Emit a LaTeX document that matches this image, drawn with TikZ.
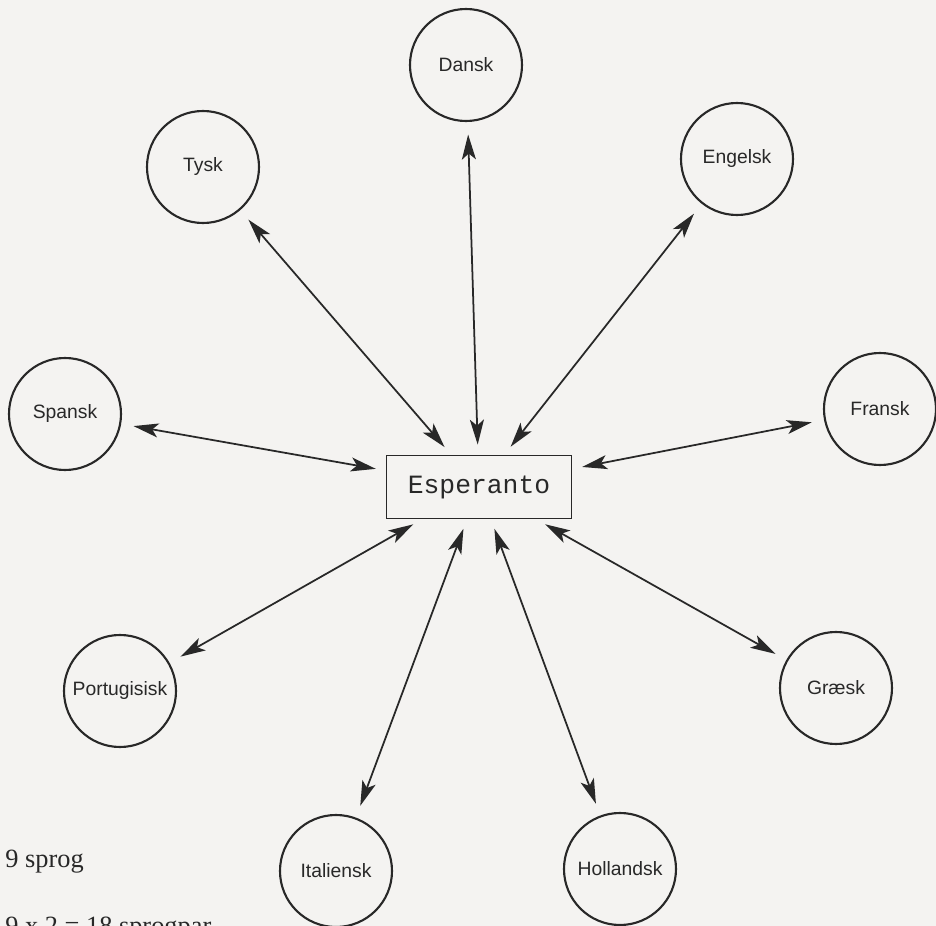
\documentclass[tikz,border=0pt]{standalone}
\usepackage{fontspec}
\setmainfont{Liberation Serif}
\setsansfont{Liberation Sans}
\setmonofont{Liberation Mono}
\usetikzlibrary{arrows.meta}
\definecolor{ink}{RGB}{40,40,40}
\definecolor{paper}{RGB}{244,243,241}

\begin{document}
\begin{tikzpicture}[
  sprog/.style={circle, draw=ink, line width=1.2pt, minimum size=2.24cm, inner sep=0pt,
    font=\sffamily\fontsize{11}{13}\selectfont, text=ink},
  midte/.style={draw=ink, line width=1pt, minimum width=3.7cm, minimum height=1.26cm,
    font=\ttfamily\fontsize{15}{18}\selectfont, text=ink},
  pil/.style={{Stealth[length=5mm,width=2.8mm,inset=1.2mm]}-{Stealth[length=5mm,width=2.8mm,inset=1.2mm]},
    draw=ink, line width=1pt, shorten <=0.2cm, shorten >=0.25cm},
  tal/.style={anchor=base west, inner sep=0pt, font=\fontsize{15}{18}\selectfont, text=ink}
]
\fill[paper] (0,0) rectangle (18.72,18.52);
\useasboundingbox (0,0) rectangle (18.72,18.52);
\node[midte] (esp) at (9.58,8.78) {Esperanto};
\node[sprog] (dansk) at (9.32,17.22) {Dansk};
\node[sprog] (tysk) at (4.06,15.18) {Tysk};
\node[sprog] (engelsk) at (14.74,15.34) {Engelsk};
\node[sprog] (spansk) at (1.30,10.24) {Spansk};
\node[sprog] (fransk) at (17.60,10.34) {Fransk};
\node[sprog] (portugisisk) at (2.40,4.70) {Portugisisk};
\node[sprog] (graesk) at (16.72,4.76) {Græsk};
\node[sprog] (italiensk) at (6.72,1.10) {Italiensk};
\node[sprog] (hollandsk) at (12.40,1.14) {Hollandsk};
\foreach \s in {dansk,tysk,engelsk,spansk,fransk,portugisisk,graesk,italiensk,hollandsk}
  \draw[pil] (esp) -- (\s);
% tekst nederst
\node[tal] (antal) at (0.1,1.16) {9 sprog};
\node[tal] (par) at (0.1,-0.18) {9 x 2 = 18 sprogpar};
\end{tikzpicture}
\end{document}
